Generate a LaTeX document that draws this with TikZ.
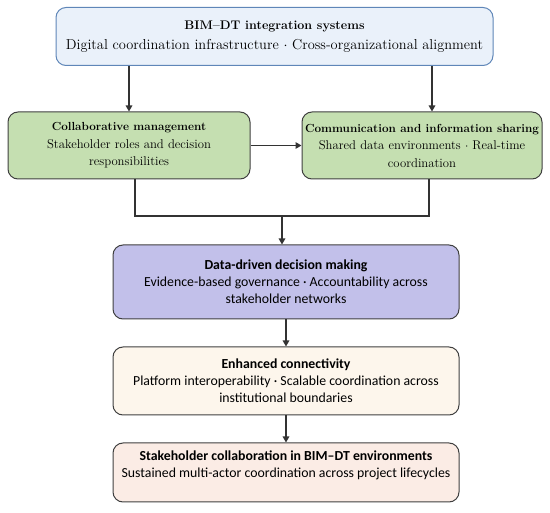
\documentclass[tikz,border=0pt]{standalone}
\usepackage{fontspec}
\newfontfamily\calfont{Carlito}
\usetikzlibrary{arrows.meta}
\definecolor{bluefill}{HTML}{EAF1FA}
\definecolor{blueline}{HTML}{5F86B8}
\definecolor{greenfill}{HTML}{C5DFB1}
\definecolor{purplefill}{HTML}{C2C0EA}
\definecolor{peachfill}{HTML}{FDF6EC}
\definecolor{pinkfill}{HTML}{FBECE5}
\definecolor{edge}{HTML}{404040}
\definecolor{arrowc}{HTML}{333333}
\newcommand{\gtitle}[1]{{\fontsize{11.7}{17.5}\selectfont\bfseries #1}}
\tikzset{
  box/.style={draw=edge, line width=1pt, rounded corners=10pt, align=center, inner sep=2pt},
  serifbox/.style={box, font=\fontsize{12.7}{17.5}\selectfont},
  sansbox/.style={box, font=\calfont\fontsize{13.8}{17}\selectfont},
  conn/.style={draw=arrowc, line width=1.6pt},
  arr/.style={conn, -{Triangle[length=6pt,width=6.5pt]}}
}
\begin{document}
\begin{tikzpicture}[x=1pt,y=-1pt]
\useasboundingbox (0,0) rectangle (550,513);
\node[serifbox, draw=blueline, fill=bluefill, minimum width=437pt, minimum height=58pt, font=\fontsize{12.5}{20}\selectfont] (top) at (274.5,36.5)
  {\textbf{BIM–DT integration systems}\\{\fontsize{14.4}{20}\selectfont Digital coordination infrastructure $\cdot$ Cross-organizational alignment}};
\node[serifbox, fill=greenfill, minimum width=242pt, minimum height=67pt] (cm) at (129,145.5)
  {\gtitle{Collaborative management}\\Stakeholder roles and decision\\responsibilities};
\node[serifbox, fill=greenfill, minimum width=240pt, minimum height=67pt] (ci) at (422,145.5)
  {\gtitle{Communication and information sharing}\\Shared data environments $\cdot$ Real-time\\coordination};
\node[sansbox, fill=purplefill, minimum width=346pt, minimum height=74pt] (dd) at (286,282)
  {\textbf{Data-driven decision making}\\Evidence-based governance · Accountability across\\stakeholder networks};
\node[sansbox, fill=peachfill, minimum width=346pt, minimum height=68pt] (ec) at (286,381)
  {\textbf{Enhanced connectivity}\\Platform interoperability · Scalable coordination across\\institutional boundaries};
\node[sansbox, fill=pinkfill, minimum width=346pt, minimum height=59pt] (sc) at (286,472.5)
  {\textbf{Stakeholder collaboration in BIM–DT environments}\\Sustained multi-actor coordination across project lifecycles\\\mbox{}};
\coordinate (j) at (282,216);
\draw[arr] (top.south -| cm.south) -- (cm.north);
\draw[arr] ([xshift=10pt]top.south -| ci.south) -- ([xshift=10pt]ci.north);
\draw[arr] (cm.east) -- (ci.west);
\draw[conn] ([xshift=6pt]cm.south) |- (j);
\draw[conn] ([xshift=7pt]ci.south) |- (j);
\draw[arr] (j) -- (j |- dd.north);
\draw[arr] (dd.south) -- (ec.north);
\draw[arr] (ec.south) -- (sc.north);
\end{tikzpicture}
\end{document}
